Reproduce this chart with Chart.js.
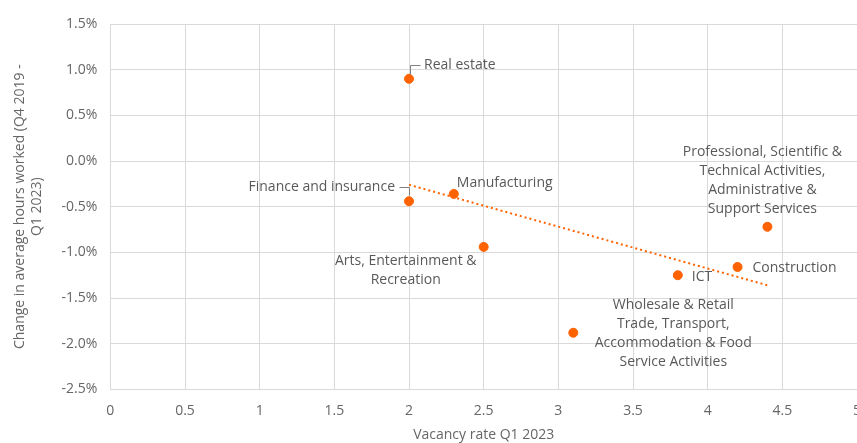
<!DOCTYPE html>
<html>
<head>
<meta charset="utf-8">
<script src="https://cdn.jsdelivr.net/npm/chart.js@4"></script>
<style>
  html, body { margin: 0; padding: 0; background: #fff; overflow: hidden; }
  canvas { display: block; }
</style>
</head>
<body>
<canvas id="myChart" width="857" height="443"></canvas>
<script>
// dados
var setores = ['Real estate', 'Finance and insurance', 'Manufacturing', 'Arts, Entertainment & Recreation',
  'Wholesale & Retail Trade, Transport, Accommodation & Food Service Activities', 'ICT', 'Construction',
  'Professional, Scientific & Technical Activities, Administrative & Support Services'];
var vagas = [2.0, 2.0, 2.3, 2.5, 3.1, 3.8, 4.2, 4.4];
var horas = [0.90, -0.44, -0.36, -0.94, -1.88, -1.25, -1.16, -0.72];
var tendenciaX = [2.0, 4.4];
var tendenciaY = [-0.26, -1.36];
var ticksY = [-2.5, -2.0, -1.5, -1.0, -0.5, 0.0, 0.5, 1.0, 1.5];

var laranja = '#ff6200';
var cinza = '#595959';
var fonte = "'Open Sans', sans-serif";

// rótulos: linhas de texto, deslocamento em px e alinhamento
var rotulos = [
  { linhas: ['Real estate'], dx: 15, dy: -14, align: 'left', guia: [[1, -5], [1, -14], [11, -14]] },
  { linhas: ['Finance and insurance'], dx: -14, dy: -14, align: 'right', guia: [[0, -6], [0, -14], [-10, -14]] },
  { linhas: ['Manufacturing'], dx: 3, dy: -11, align: 'left' },
  { linhas: ['Arts, Entertainment &', 'Recreation'], dx: -78, dy: 14, align: 'center' },
  { linhas: ['Wholesale & Retail', 'Trade, Transport,', 'Accommodation & Food', 'Service Activities'], dx: 100, dy: -28, align: 'center' },
  { linhas: ['ICT'], dx: 14, dy: 2, align: 'left' },
  { linhas: ['Construction'], dx: 15, dy: 1, align: 'left' },
  { linhas: ['Professional, Scientific &', 'Technical Activities,', 'Administrative &', 'Support Services'], dx: -5, dy: -75, align: 'center' }
];

var pontos = vagas.map(function (v, i) { return { x: v, y: horas[i] }; });
var tendencia = tendenciaX.map(function (v, i) { return { x: v, y: tendenciaY[i] }; });

// Plugin para desenhar os rótulos dos pontos
var pluginRotulos = {
  id: 'rotulos',
  afterDatasetsDraw: function (chart) {
    var ctx = chart.ctx;
    var meta = chart.getDatasetMeta(1);
    ctx.save();
    ctx.font = '14px ' + fonte;
    ctx.fillStyle = cinza;
    ctx.textBaseline = 'middle';
    meta.data.forEach(function (p, i) {
      var r = rotulos[i];
      if (r.guia) {
        ctx.strokeStyle = '#808080';
        ctx.lineWidth = 1;
        ctx.beginPath();
        r.guia.forEach(function (g, k) {
          var gx = Math.round(p.x + g[0]) + 0.5, gy = Math.round(p.y + g[1]) + 0.5;
          if (k === 0) ctx.moveTo(gx, gy); else ctx.lineTo(gx, gy);
        });
        ctx.stroke();
      }
      ctx.textAlign = r.align;
      r.linhas.forEach(function (t, k) {
        ctx.fillText(t, p.x + r.dx, p.y + r.dy + k * 19);
      });
    });
    ctx.restore();
  }
};

var config = {
  type: 'scatter',
  data: {
    datasets: [{
      type: 'line',
      data: tendencia,
      borderColor: laranja,
      borderWidth: 2,
      borderDash: [2, 3],
      pointRadius: 0,
      fill: false
    }, {
      data: pontos,
      backgroundColor: laranja,
      borderColor: laranja,
      pointRadius: 4.5,
      pointHoverRadius: 4.5
    }]
  },
  options: {
    responsive: false,
    animation: false,
    devicePixelRatio: 1,
    layout: { autoPadding: false, padding: { top: 24, left: 12, right: 0, bottom: 0 } },
    plugins: { legend: { display: false }, tooltip: { enabled: false } },
    scales: {
      x: {
        type: 'linear',
        min: 0, max: 5,
        // o "5" fica cortado na borda, como no original
        afterFit: function (scale) { scale.paddingRight = 0; },
        ticks: {
          stepSize: 0.5, color: '#666', font: { family: fonte, size: 14 }, padding: 13,
          callback: function (v) { return String(v); }
        },
        grid: { color: '#d9d9d9', drawTicks: false },
        border: { color: '#d9d9d9' },
        title: { display: true, text: 'Vacancy rate Q1 2023', color: '#666', font: { family: fonte, size: 14 }, padding: { top: -6, bottom: 0 } }
      },
      y: {
        min: -2.5, max: 1.5,
        afterBuildTicks: function (axis) { axis.ticks = ticksY.map(function (v) { return { value: v }; }); },
        ticks: {
          color: '#666', font: { family: fonte, size: 14 }, padding: 13,
          callback: function (v) { return v.toFixed(1) + '%'; }
        },
        grid: { color: '#d9d9d9', drawTicks: false },
        border: { color: '#d9d9d9' },
        title: { display: true, text: ['Change in average hours worked (Q4 2019 -', 'Q1 2023)'], color: '#666', font: { family: fonte, size: 14 }, padding: { top: 0, bottom: 3 } }
      }
    }
  },
  plugins: [pluginRotulos]
};

var myChart = new Chart(document.getElementById('myChart').getContext('2d'), config);
</script>
</body>
</html>
